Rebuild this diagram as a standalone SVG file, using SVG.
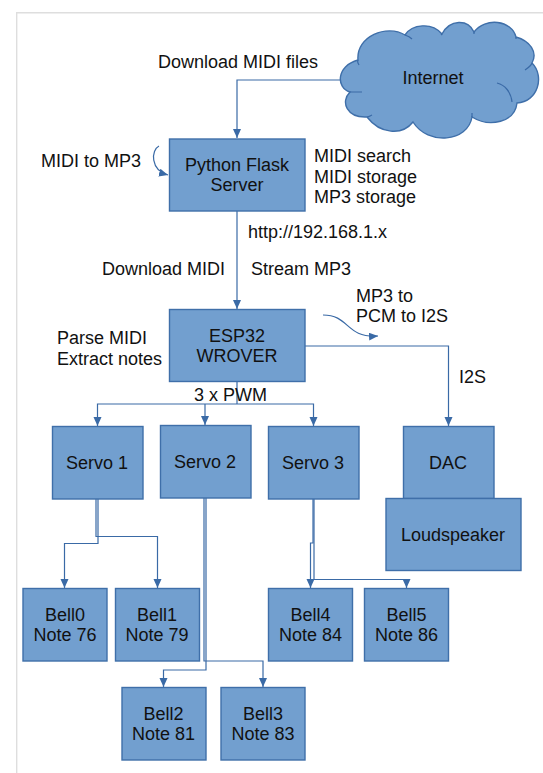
<svg xmlns="http://www.w3.org/2000/svg" width="543" height="773" viewBox="0 0 543 773">
<style>
text{font-family:"Liberation Sans",Arial,sans-serif;font-size:18px;fill:#111}
.c{text-anchor:middle}
.b{fill:#729fcf;stroke:#3f6fa9;stroke-width:1.4}
.l{fill:none;stroke:#3a6aa6;stroke-width:1.2}
.a{fill:none;stroke:#3a6aa6;stroke-width:1.2;marker-end:url(#m)}
</style>
<defs><marker id="m" markerUnits="userSpaceOnUse" markerWidth="10" markerHeight="9" refX="9" refY="4" orient="auto"><path d="M0 0L9 4L0 8Z" fill="#3a6aa6"/></marker></defs>
<rect width="543" height="773" fill="#fff"/>
<path d="M16.700 773V12.700H543" fill="none" stroke="#dedede" stroke-width="1.4"/>
<g id="connectors">
<path class="a" d="M341 80H237V138"/>
<path class="a" d="M237 211V309"/>
<path class="l" d="M237 382V404"/>
<path class="a" d="M237 404H97.500V426"/>
<path class="a" d="M205 404V425"/>
<path class="a" d="M237 404H313.500V426"/>
<path class="a" d="M305 346H448.500V426"/>
<path class="a" d="M98 499V543.500H64.500V588"/>
<path class="a" d="M96 499V536.500H157.500V588"/>
<path class="a" d="M206 498V670H163.500V687"/>
<path class="a" d="M204 498V661H263V687"/>
<path class="a" d="M313 499V543H310.500V588"/>
<path class="a" d="M314 499V579.500H406.500V588"/>
<path class="a" d="M159 146C151 150 150 170 168 175"/>
<path class="a" d="M323 315C350 315 345 338 378 336"/>
</g>
<g id="internet">
<path class="b" d="M358 60C356 36 387 24 405 35C412 24 432 22 442 34C450 19 468 19 474 32C485 17 512 20 516 37C530 41 538 52 532 63C545 76 538 102 517 103C515 122 490 128 472 117C468 142 428 146 413 122C402 136 380 134 367 117C347 118 340 102 350 92C336 88 336 66 358 60Z"/>
<path class="l" d="M358 60C357 62 358 63 359 65M405 35C408 36 410 37 412 39M442 34L441 35M474 32L474 34M516 37L516 39M532 63C531 66 528 68 525 70M497 83C505 85 511 92 512 102M472 117L472 113M350 92C354 92 358 92 362 92M367 117C369 117 370 116 372 115"/>
<text class="c" x="433" y="84">Internet</text>
</g>
<g id="flask"><rect class="b" x="169.500" y="139" width="135.500" height="72"/><text class="c" x="237" y="171">Python Flask</text><text class="c" x="237" y="191">Server</text></g>
<g id="esp32"><rect class="b" x="169.500" y="309.500" width="135.500" height="72"/><text class="c" x="237" y="342">ESP32</text><text class="c" x="237" y="362">WROVER</text></g>
<g id="servo1"><rect class="b" x="52.500" y="426.500" width="90.500" height="72.500"/><text class="c" x="97" y="469">Servo 1</text></g>
<g id="servo2"><rect class="b" x="160.500" y="425.500" width="90.500" height="72.500"/><text class="c" x="205" y="468">Servo 2</text></g>
<g id="servo3"><rect class="b" x="268.500" y="426.500" width="90.500" height="72.500"/><text class="c" x="313" y="469">Servo 3</text></g>
<g id="dac"><rect class="b" x="403.500" y="426.500" width="90.500" height="72"/><text class="c" x="448" y="469">DAC</text></g>
<g id="loudspeaker"><rect class="b" x="386" y="498.500" width="135" height="72"/><text class="c" x="453" y="541">Loudspeaker</text></g>
<g id="bell0"><rect class="b" x="23" y="588.500" width="84" height="72.500"/><text class="c" x="65" y="621">Bell0</text><text class="c" x="65" y="641">Note 76</text></g>
<g id="bell1"><rect class="b" x="115.500" y="588.500" width="84" height="72.500"/><text class="c" x="157" y="621">Bell1</text><text class="c" x="157" y="641">Note 79</text></g>
<g id="bell4"><rect class="b" x="268.500" y="588.500" width="84" height="72.500"/><text class="c" x="310.500" y="621">Bell4</text><text class="c" x="310.500" y="641">Note 84</text></g>
<g id="bell5"><rect class="b" x="364.500" y="588.500" width="84" height="72.500"/><text class="c" x="406.500" y="621">Bell5</text><text class="c" x="406.500" y="641">Note 86</text></g>
<g id="bell2"><rect class="b" x="122" y="687.500" width="84" height="72.500"/><text class="c" x="163.500" y="720">Bell2</text><text class="c" x="163.500" y="740">Note 81</text></g>
<g id="bell3"><rect class="b" x="221" y="687.500" width="84" height="72.500"/><text class="c" x="263" y="720">Bell3</text><text class="c" x="263" y="740">Note 83</text></g>
<g id="labels">
<text x="158" y="68">Download MIDI files</text>
<text x="41" y="167">MIDI to MP3</text>
<text x="314" y="162">MIDI search</text>
<text x="314" y="183">MIDI storage</text>
<text x="314" y="203">MP3 storage</text>
<text x="248" y="238">http://192.168.1.x</text>
<text x="102" y="275">Download MIDI</text>
<text x="251" y="275">Stream MP3</text>
<text x="356" y="302">MP3 to</text>
<text x="356" y="322">PCM to I2S</text>
<text x="57" y="344">Parse MIDI</text>
<text x="57" y="365">Extract notes</text>
<text x="194" y="401">3 x PWM</text>
<text x="459" y="383">I2S</text>
</g>
</svg>
